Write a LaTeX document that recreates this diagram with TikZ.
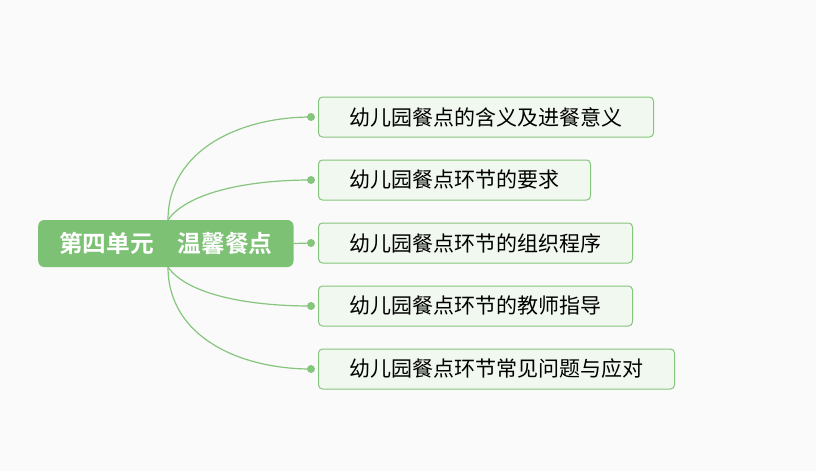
\documentclass[tikz,border=0pt]{standalone}
\usepackage{fontspec}
\setmainfont{Noto Sans CJK SC}
\newfontfamily\cjkbold{Noto Sans CJK SC Bold}
\definecolor{bgc}{HTML}{FAFAFA}
\definecolor{rootc}{HTML}{7DC175}
\definecolor{linec}{HTML}{86C57D}
\definecolor{childfill}{HTML}{F1F8EF}
\begin{document}
\begin{tikzpicture}[x=1pt,y=-1pt,
  rootbox/.style={rounded corners=6pt,fill=rootc,draw=none,text=white,font=\cjkbold\fontsize{23.7}{26}\selectfont,minimum height=47pt,inner xsep=21pt,anchor=west},
  childbox/.style={rounded corners=4pt,fill=childfill,draw=linec,line width=1pt,font=\fontsize{21}{24}\selectfont,minimum height=40pt,inner xsep=31pt,anchor=west},
  conn/.style={draw=linec,line width=1.2pt},
  dotc/.style={circle,fill=linec,inner sep=0pt,minimum size=8pt}]
\fill[bgc] (0,0) rectangle (816,471);
\useasboundingbox (0,0) rectangle (816,471);
\node[rootbox] (root) at (38,243.5) {第四单元\hspace{1em}温馨餐点};
\node[childbox] (c1) at (318,117) {幼儿园餐点的含义及进餐意义};
\node[childbox] (c2) at (318,180) {幼儿园餐点环节的要求};
\node[childbox] (c3) at (318,243) {幼儿园餐点环节的组织程序};
\node[childbox] (c4) at (318,306) {幼儿园餐点环节的教师指导};
\node[childbox] (c5) at (318,369) {幼儿园餐点环节常见问题与应对};
\coordinate (s) at (168,220);
\coordinate (t) at (168,267);
\draw[conn] (s) .. controls (168,150) and (240,117) .. (311,117) coordinate (e1);
\draw[conn] (s) .. controls (185,195) and (240,180) .. (311,180) coordinate (e2);
\draw[conn] (root.east) -- (311,243) coordinate (e3);
\draw[conn] (t) .. controls (185,292) and (240,306) .. (311,306) coordinate (e4);
\draw[conn] (t) .. controls (168,337) and (240,369) .. (311,369) coordinate (e5);
\node[dotc] (d1) at (e1) {};
\node[dotc] (d2) at (e2) {};
\node[dotc] (d3) at (e3) {};
\node[dotc] (d4) at (e4) {};
\node[dotc] (d5) at (e5) {};
\end{tikzpicture}
\end{document}
